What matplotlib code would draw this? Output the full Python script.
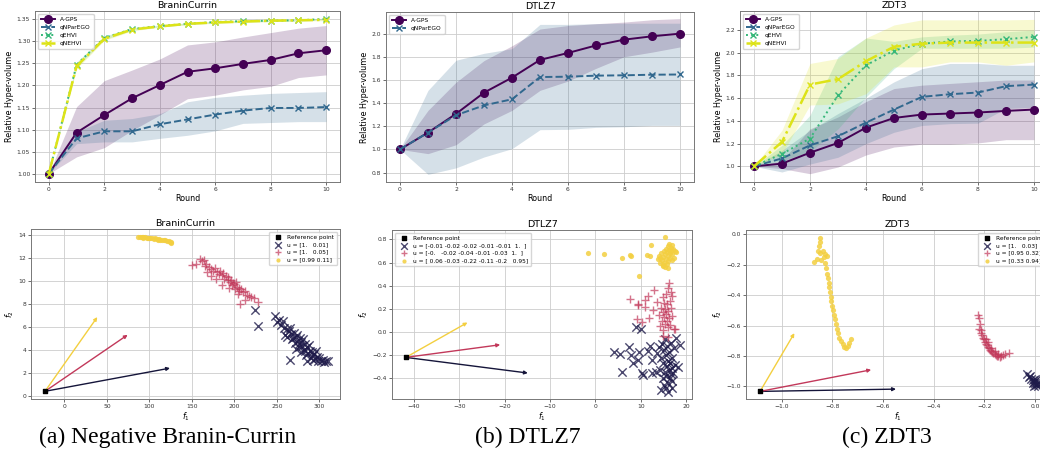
import numpy as np
import matplotlib
matplotlib.use("Agg")
import matplotlib.pyplot as plt

# ---------------- data: hyper-volume curves ----------------
rounds = list(range(11))

bc_agps = [1.000, 1.093, 1.133, 1.171, 1.201, 1.231, 1.239, 1.249, 1.258, 1.273, 1.280]
bc_agps_lo = [1.000, 1.038, 1.059, 1.098, 1.133, 1.170, 1.178, 1.190, 1.198, 1.218, 1.224]
bc_agps_hi = [1.000, 1.152, 1.211, 1.235, 1.260, 1.292, 1.299, 1.310, 1.320, 1.330, 1.336]
bc_par = [1.000, 1.080, 1.096, 1.096, 1.112, 1.123, 1.134, 1.143, 1.149, 1.149, 1.151]
bc_par_lo = [1.000, 1.068, 1.072, 1.072, 1.080, 1.087, 1.097, 1.114, 1.116, 1.118, 1.118]
bc_par_hi = [1.000, 1.095, 1.121, 1.125, 1.136, 1.163, 1.173, 1.178, 1.182, 1.184, 1.186]
bc_ehvi = [1.000, 1.247, 1.308, 1.328, 1.335, 1.340, 1.344, 1.346, 1.347, 1.348, 1.351]
bc_ehvi_lo = [1.000, 1.241, 1.304, 1.325, 1.333, 1.338, 1.342, 1.344, 1.345, 1.346, 1.349]
bc_ehvi_hi = [1.000, 1.253, 1.312, 1.331, 1.337, 1.342, 1.346, 1.348, 1.349, 1.350, 1.353]
bc_nehvi = [1.000, 1.244, 1.306, 1.327, 1.334, 1.340, 1.343, 1.345, 1.347, 1.348, 1.349]
bc_nehvi_lo = [1.000, 1.238, 1.302, 1.324, 1.332, 1.338, 1.341, 1.343, 1.345, 1.346, 1.347]
bc_nehvi_hi = [1.000, 1.250, 1.310, 1.330, 1.336, 1.342, 1.345, 1.347, 1.349, 1.350, 1.351]

dt_agps = [1.000, 1.145, 1.307, 1.490, 1.620, 1.773, 1.833, 1.898, 1.948, 1.977, 2.000]
dt_agps_lo = [1.000, 0.963, 1.040, 1.220, 1.337, 1.510, 1.590, 1.700, 1.800, 1.840, 1.885]
dt_agps_hi = [1.000, 1.337, 1.580, 1.767, 1.895, 2.040, 2.070, 2.086, 2.100, 2.120, 2.130]
dt_par = [1.000, 1.145, 1.295, 1.380, 1.433, 1.625, 1.628, 1.637, 1.640, 1.645, 1.647]
dt_par_lo = [1.000, 0.784, 0.840, 0.934, 1.006, 1.170, 1.173, 1.190, 1.195, 1.207, 1.207]
dt_par_hi = [1.000, 1.510, 1.770, 1.830, 1.870, 2.080, 2.080, 2.086, 2.090, 2.090, 2.090]

zd_agps = [1.000, 1.024, 1.120, 1.206, 1.341, 1.426, 1.456, 1.465, 1.474, 1.488, 1.500]
zd_agps_lo = [1.000, 0.980, 0.935, 0.994, 1.100, 1.170, 1.195, 1.195, 1.206, 1.235, 1.235]
zd_agps_hi = [1.000, 1.050, 1.330, 1.435, 1.570, 1.685, 1.715, 1.730, 1.745, 1.760, 1.760]
zd_par = [1.000, 1.070, 1.185, 1.265, 1.385, 1.500, 1.612, 1.635, 1.650, 1.706, 1.720]
zd_par_lo = [1.000, 0.950, 1.020, 1.080, 1.200, 1.300, 1.360, 1.376, 1.380, 1.510, 1.520]
zd_par_hi = [1.000, 1.140, 1.318, 1.465, 1.600, 1.744, 1.860, 1.906, 1.906, 1.890, 1.890]
zd_ehvi = [1.000, 1.110, 1.245, 1.626, 1.890, 2.020, 2.080, 2.100, 2.105, 2.120, 2.140]
zd_ehvi_lo = [1.000, 1.050, 1.130, 1.330, 1.610, 1.860, 2.040, 2.040, 2.040, 2.040, 2.050]
zd_ehvi_hi = [1.000, 1.185, 1.450, 1.965, 2.130, 2.100, 2.140, 2.155, 2.165, 2.185, 2.200]
zd_nehvi = [1.000, 1.215, 1.720, 1.768, 1.926, 2.053, 2.080, 2.090, 2.090, 2.090, 2.090]
zd_nehvi_lo = [1.000, 1.110, 1.540, 1.550, 1.640, 1.876, 1.876, 1.920, 1.920, 1.890, 1.920]
zd_nehvi_hi = [1.000, 1.318, 1.906, 1.950, 2.130, 2.245, 2.290, 2.290, 2.290, 2.290, 2.294]

method_names = ["A-GPS", "qNParEGO", "qEHVI", "qNEHVI"]

# ---------------- data: Pareto scatter ----------------
bc_ref = (-22.7, 0.38)
bc_arrow_ends = [(124.3, 2.4), (74.5, 5.3), (38.8, 6.85)]
bc_labels = ["u = [1.   0.01]", "u = [1.   0.05]", "u = [0.99 0.11]"]
bc_x0 = [(224, 7.5), (228, 6.1), (248, 6.9), (250, 6.4), (252, 6.6), (255, 6.2), (257, 6.5), (258, 5.9),
         (260, 5.3), (262, 5.8), (264, 5.6), (265, 5.9), (266, 3.1), (267, 5.4), (268, 4.9), (270, 5.5),
         (271, 4.6), (272, 5.1), (273, 4.1), (274, 5.3), (275, 4.8), (276, 4.5), (277, 5.0), (278, 3.8),
         (279, 4.7), (280, 4.3), (281, 4.9), (282, 4.0), (283, 4.5), (284, 3.5), (285, 3.0), (286, 4.2),
         (287, 3.7), (288, 4.4), (289, 3.9), (290, 3.3), (291, 3.8), (292, 3.5), (293, 3.1), (294, 3.6),
         (295, 3.2), (296, 3.9), (297, 3.4), (298, 3.0), (300, 3.3), (302, 3.0), (304, 3.1), (306, 2.9),
         (308, 3.0), (310, 3.0), (262, 5.1), (269, 5.0), (276, 4.2), (283, 3.9)]
bc_x1 = [(150, 11.4), (155, 11.45), (160, 11.9), (162, 11.7), (164, 11.8), (165, 11.3), (167, 11.5),
         (170, 11.2), (172, 11.0), (175, 10.9), (177, 11.1), (180, 10.8), (182, 10.6), (183, 10.9),
         (185, 10.5), (187, 10.7), (188, 10.2), (190, 10.4), (192, 10.1), (193, 10.3), (195, 9.9),
         (196, 10.1), (197, 9.6), (198, 9.8), (200, 9.7), (201, 9.3), (202, 9.9), (203, 9.5), (205, 9.4),
         (206, 9.1), (207, 8.0), (208, 9.3), (210, 9.0), (212, 9.1), (213, 8.3), (215, 8.8), (217, 8.7),
         (220, 8.6), (223, 8.5), (228, 8.2), (172, 10.4), (178, 10.2), (186, 9.6), (194, 9.4), (204, 8.9),
         (168, 10.8)]
bc_x2 = [(87, 13.82), (89, 13.80), (91, 13.83), (93, 13.78), (95, 13.80), (97, 13.75), (99, 13.77),
         (101, 13.72), (103, 13.73), (105, 13.68), (107, 13.70), (109, 13.64), (111, 13.65), (113, 13.58),
         (115, 13.60), (117, 13.52), (119, 13.53), (121, 13.46), (123, 13.45), (125, 13.38), (126, 13.32),
         (124, 13.40), (100, 13.70), (92, 13.76), (110, 13.60)]

dt_ref = (-41.8, -0.218)
dt_arrow_ends = [(-14.9, -0.353), (-21.0, -0.109), (-28.2, 0.083)]
dt_labels = ["u = [-0.01 -0.02 -0.02 -0.01 -0.01  1.  ]",
             "u = [-0.   -0.02 -0.04 -0.01 -0.03  1.  ]",
             "u = [ 0.06 -0.03 -0.22 -0.11 -0.2   0.95]"]
dt_x0 = [(4.0, -0.17), (5.4, -0.19), (5.9, -0.34), (7.4, -0.13), (7.9, -0.20), (8.2, -0.27), (8.9, 0.04),
         (9.4, -0.24), (9.6, -0.17), (10.1, 0.03), (10.2, -0.35), (10.5, -0.37), (11.5, -0.16), (12.0, -0.12),
         (12.4, -0.35), (12.5, -0.24), (13.3, -0.34), (13.5, -0.18), (14.0, -0.13), (14.3, -0.33), (14.4, -0.50),
         (14.5, -0.22), (14.7, -0.10), (14.8, -0.40), (15.0, -0.27), (15.1, -0.15), (15.2, -0.46), (15.3, -0.34),
         (15.4, -0.06), (15.5, -0.20), (15.6, -0.38), (15.7, -0.29), (15.8, -0.12), (15.9, -0.44), (16.0, -0.25),
         (16.1, -0.52), (16.2, -0.33), (16.3, -0.17), (16.4, -0.40), (16.5, -0.27), (16.6, -0.36), (16.7, -0.09),
         (16.8, -0.31), (16.9, -0.42), (17.0, -0.22), (17.2, -0.35), (17.4, -0.14), (17.6, -0.28), (18.2, -0.30),
         (18.6, -0.11), (17.8, -0.05), (15.5, -0.48), (16.8, -0.48)]
dt_x1 = [(7.7, 0.29), (9.3, 0.24), (9.4, 0.23), (9.2, 0.11), (10.3, 0.09), (10.9, 0.28), (11.0, 0.22),
         (11.7, 0.31), (11.8, 0.12), (12.9, 0.36), (12.8, 0.19), (13.5, 0.26), (14.0, 0.15), (14.3, 0.05),
         (14.5, 0.21), (14.6, 0.10), (14.8, 0.30), (14.9, 0.17), (15.0, 0.02), (15.1, 0.25), (15.2, 0.13),
         (15.3, 0.07), (15.4, 0.20), (15.5, 0.33), (15.6, 0.16), (15.7, 0.10), (15.8, 0.24), (15.9, 0.04),
         (16.0, 0.38), (16.1, 0.18), (16.2, 0.42), (16.3, 0.12), (16.4, 0.27), (16.5, 0.06), (16.6, 0.35),
         (16.7, 0.21), (16.9, 0.14), (17.0, 0.31), (17.3, 0.03), (17.6, 0.03), (15.0, -0.03), (16.0, -0.04)]
dt_x2 = [(-1.7, 0.68), (2.0, 0.67), (5.9, 0.64), (7.7, 0.665), (7.8, 0.66), (9.6, 0.485), (11.3, 0.665),
         (12.2, 0.75), (12.1, 0.655), (15.4, 0.82), (13.8, 0.63), (14.0, 0.66), (14.3, 0.60), (14.5, 0.68),
         (14.7, 0.62), (14.8, 0.57), (15.0, 0.65), (15.1, 0.70), (15.2, 0.60), (15.3, 0.56), (15.4, 0.67),
         (15.5, 0.72), (15.6, 0.63), (15.7, 0.59), (15.8, 0.69), (15.9, 0.74), (16.0, 0.66), (16.1, 0.61),
         (16.2, 0.71), (16.3, 0.76), (16.4, 0.68), (16.5, 0.64), (16.6, 0.73), (16.7, 0.70), (16.8, 0.75),
         (17.0, 0.67), (17.2, 0.72), (17.5, 0.70), (17.8, 0.69), (16.0, 0.55), (15.0, 0.58), (14.2, 0.64),
         (16.9, 0.62), (17.3, 0.64)]

zd_ref = (-1.0855, -1.033)
zd_arrow_ends = [(-0.549, -1.018), (-0.647, -0.891), (-0.950, -0.650)]
zd_labels = ["u = [1.   0.03]", "u = [0.95 0.32]", "u = [0.33 0.94]"]
zd_x0 = [(-0.030, -0.92), (-0.025, -0.94), (-0.015, -0.95), (-0.010, -0.96), (-0.005, -0.97), (0.000, -0.98),
         (0.005, -0.99), (0.010, -1.00), (0.000, -0.95), (-0.010, -0.98), (0.005, -0.96), (-0.020, -0.93),
         (0.008, -0.975), (-0.003, -1.00), (0.012, -0.985)]
zd_x1 = [(-0.225, -0.53), (-0.222, -0.55), (-0.218, -0.59), (-0.222, -0.62), (-0.215, -0.63), (-0.212, -0.65),
         (-0.208, -0.66), (-0.204, -0.68), (-0.200, -0.69), (-0.198, -0.71), (-0.193, -0.72), (-0.190, -0.73),
         (-0.186, -0.74), (-0.182, -0.75), (-0.178, -0.76), (-0.175, -0.77), (-0.170, -0.775), (-0.165, -0.78),
         (-0.160, -0.79), (-0.155, -0.795), (-0.150, -0.80), (-0.145, -0.80), (-0.140, -0.805), (-0.135, -0.80),
         (-0.128, -0.795), (-0.120, -0.79), (-0.102, -0.78), (-0.195, -0.69), (-0.185, -0.71), (-0.172, -0.75),
         (-0.158, -0.77), (-0.145, -0.785)]
zd_x2 = [(-0.847, -0.025), (-0.850, -0.05), (-0.852, -0.08), (-0.858, -0.11), (-0.848, -0.12), (-0.838, -0.11),
         (-0.830, -0.13), (-0.822, -0.145), (-0.835, -0.15), (-0.860, -0.16), (-0.872, -0.18), (-0.843, -0.17),
         (-0.830, -0.19), (-0.825, -0.22), (-0.822, -0.26), (-0.818, -0.29), (-0.815, -0.32), (-0.812, -0.35),
         (-0.810, -0.38), (-0.807, -0.41), (-0.804, -0.44), (-0.801, -0.47), (-0.797, -0.50), (-0.793, -0.53),
         (-0.789, -0.56), (-0.785, -0.59), (-0.781, -0.62), (-0.777, -0.65), (-0.772, -0.68), (-0.766, -0.70),
         (-0.760, -0.72), (-0.754, -0.74), (-0.747, -0.745), (-0.740, -0.735), (-0.735, -0.715), (-0.728, -0.69)]

captions = ["(a) Negative Branin-Currin", "(b) DTLZ7", "(c) ZDT3"]

# ---------------- style ----------------
W, H = 1040, 457
fig = plt.figure(figsize=(W / 100, H / 100), dpi=100)

line_cols = ["#440154", "#31688e", "#35b779", "#dde318"]
sc_cols = ["#1e1a4a", "#c2385a", "#f3cf40"]
TICK_FS = 4.3
LAB_FS = 5.8
TITLE_FS = 6.8
LEG_FS = 4.2


def px_axes(l, t, r, b):
    return fig.add_axes([l / W, 1 - b / H, (r - l) / W, (b - t) / H])


def style(ax):
    ax.grid(True, color="#cccccc", lw=0.6)
    ax.set_axisbelow(True)
    for s in ax.spines.values():
        s.set_color("#777777")
        s.set_linewidth(0.7)
    ax.tick_params(labelsize=TICK_FS, length=2, width=0.5, pad=1.5, colors="#333333")


def hv_panel(rect, title, series, ylim, yticks, yfmt):
    ax = px_axes(*rect)
    style(ax)
    specs = [dict(ls="-", marker="o", ms=5.5, lw=1.4),
             dict(ls="--", marker="x", ms=5, lw=1.4),
             dict(ls=":", marker="x", ms=5, lw=1.4),
             dict(ls="-.", marker="x", ms=5, lw=1.8)]
    for i, (name, mean, lo, hi) in enumerate(series):
        ax.fill_between(rounds, lo, hi, color=line_cols[i], alpha=0.2, lw=0)
        ax.plot(rounds, mean, color=line_cols[i], label=name, **specs[i])
    ax.set_xlim(-0.5, 10.5)
    ax.set_ylim(*ylim)
    ax.set_xticks(range(0, 11, 2))
    ax.set_yticks(yticks)
    ax.set_yticklabels([yfmt.format(v) for v in yticks])
    ax.set_xlabel("Round", fontsize=LAB_FS, labelpad=1.5)
    ax.set_ylabel("Relative Hyper-volume", fontsize=LAB_FS, labelpad=2)
    ax.set_title(title, fontsize=TITLE_FS, pad=2)
    ax.legend(loc="upper left", fontsize=LEG_FS, handlelength=2.5, borderpad=0.5,
              labelspacing=0.5, framealpha=0.8, edgecolor="#cccccc")
    return ax


def scatter_panel(rect, title, ref, ends, clusters, labels, xlim, ylim, xticks, yticks,
                  leg_loc, xfmt, yfmt):
    ax = px_axes(*rect)
    style(ax)
    ax.scatter([ref[0]], [ref[1]], marker="s", s=10, color="black", zorder=6, label="Reference point")
    markers = ["x", "+", "o"]
    sizes = [36, 38, 14]
    alphas = [0.8, 0.7, 0.85]
    for i, pts in enumerate(clusters):
        xs = [p[0] for p in pts]
        ys = [p[1] for p in pts]
        ax.scatter(xs, ys, marker=markers[i], s=sizes[i], color=sc_cols[i], alpha=alphas[i],
                   linewidths=1.0 if i < 2 else 0, label=labels[i], zorder=3)
    arrow_cols = ["#15153a", sc_cols[1], sc_cols[2]]
    for i, e in enumerate(ends):
        ax.annotate("", xy=e, xytext=ref,
                    arrowprops=dict(arrowstyle="-|>", color=arrow_cols[i], lw=1.0,
                                    mutation_scale=5, shrinkA=0, shrinkB=0), zorder=4)
    ax.set_xlim(*xlim)
    ax.set_ylim(*ylim)
    ax.set_xticks(xticks)
    ax.set_yticks(yticks)
    ax.set_xticklabels([xfmt(v) for v in xticks])
    ax.set_yticklabels([yfmt(v) for v in yticks])
    ax.set_xlabel("$f_1$", fontsize=LAB_FS, labelpad=1)
    ax.set_ylabel("$f_2$", fontsize=LAB_FS, labelpad=2)
    ax.set_title(title, fontsize=TITLE_FS, pad=2)
    ax.legend(loc=leg_loc, fontsize=LEG_FS, borderpad=0.5, labelspacing=0.4, handletextpad=0.6,
              framealpha=0.8, edgecolor="#cccccc", markerscale=0.8)
    return ax


def mfmt(v, d):
    s = f"{v:.{d}f}"
    return s.replace("-", "\u2212")


hv_panel((35, 11, 340, 182), "BraninCurrin",
         [(method_names[0], bc_agps, bc_agps_lo, bc_agps_hi),
          (method_names[1], bc_par, bc_par_lo, bc_par_hi),
          (method_names[2], bc_ehvi, bc_ehvi_lo, bc_ehvi_hi),
          (method_names[3], bc_nehvi, bc_nehvi_lo, bc_nehvi_hi)],
         (0.981, 1.369), [1.00, 1.05, 1.10, 1.15, 1.20, 1.25, 1.30, 1.35], "{:.2f}")

hv_panel((386, 12, 694, 182), "DTLZ7",
         [(method_names[0], dt_agps, dt_agps_lo, dt_agps_hi),
          (method_names[1], dt_par, dt_par_lo, dt_par_hi)],
         (0.718, 2.187), [0.8, 1.0, 1.2, 1.4, 1.6, 1.8, 2.0], "{:.1f}")

hv_panel((740, 11, 1048, 182), "ZDT3",
         [(method_names[0], zd_agps, zd_agps_lo, zd_agps_hi),
          (method_names[1], zd_par, zd_par_lo, zd_par_hi),
          (method_names[2], zd_ehvi, zd_ehvi_lo, zd_ehvi_hi),
          (method_names[3], zd_nehvi, zd_nehvi_lo, zd_nehvi_hi)],
         (0.862, 2.368), [1.0, 1.2, 1.4, 1.6, 1.8, 2.0, 2.2], "{:.1f}")

scatter_panel((31, 229, 340, 399), "BraninCurrin", bc_ref, bc_arrow_ends, [bc_x0, bc_x1, bc_x2], bc_labels,
              (-39.2, 324.3), (-0.29, 14.52), list(range(0, 301, 50)), list(range(0, 15, 2)),
              "upper right", lambda v: mfmt(v, 0), lambda v: mfmt(v, 0))

scatter_panel((392, 230, 692, 399), "DTLZ7", dt_ref, dt_arrow_ends, [dt_x0, dt_x1, dt_x2], dt_labels,
              (-44.85, 21.3), (-0.577, 0.881), list(range(-40, 21, 10)),
              [-0.4, -0.2, 0.0, 0.2, 0.4, 0.6, 0.8],
              "upper left", lambda v: mfmt(v, 0), lambda v: mfmt(v, 1))

scatter_panel((746, 230, 1049, 399), "ZDT3", zd_ref, zd_arrow_ends, [zd_x0, zd_x1, zd_x2], zd_labels,
              (-1.141, 0.055), (-1.083, 0.028), [-1.0, -0.8, -0.6, -0.4, -0.2, 0.0],
              [-1.0, -0.8, -0.6, -0.4, -0.2, 0.0],
              "upper right", lambda v: mfmt(v, 1), lambda v: mfmt(v, 1))

cap_x = [168, 528, 887]
for cx, cap in zip(cap_x, captions):
    fig.text(cx / W, 1 - 437 / H, cap, ha="center", va="center",
             fontsize=17, family="Liberation Serif")

fig.savefig("out.png", dpi=100)
